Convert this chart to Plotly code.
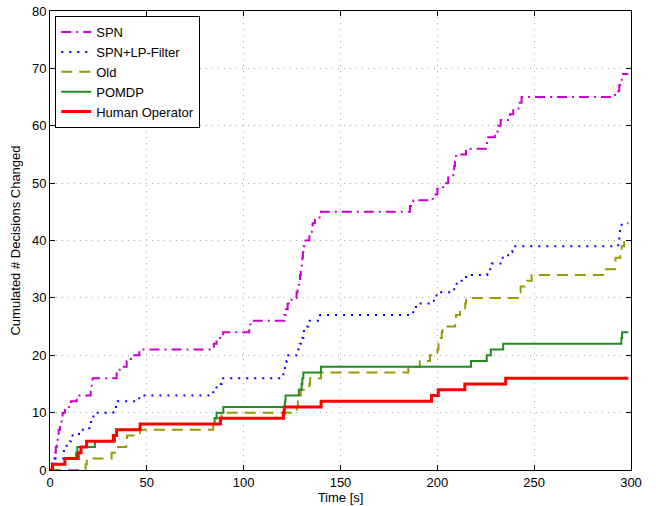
import plotly.graph_objects as go

# ---- data (step functions: time [s] -> cumulated count) ----
spn_t = [0, 1.2, 2.5, 3.0, 3.5, 4.0, 4.5, 5.2, 6.0, 6.5, 7.7, 10.8, 13.8, 21.0, 21.5, 22.0,
         34.4, 36.0, 39.6, 41.8, 46.1, 84.6, 86.0, 89.4, 102.9, 103.5, 121.0, 121.8, 122.7,
         124.8, 127.3, 127.8, 128.5, 129.1, 129.5, 130.0, 130.3, 130.6, 130.8, 131.3, 133.9,
         135.2, 135.6, 136.8, 139.9, 185.9, 187.6, 197.6, 200.0, 203.0, 205.6, 208.2, 208.7,
         209.1, 209.6, 214.8, 225.1, 226.3, 229.7, 231.4, 232.7, 237.5, 239.2, 242.6, 243.5,
         291.7, 293.9, 294.3, 295.2, 298.6]
spn_v = [0, 2, 3, 4, 5, 6, 7, 8, 9, 10, 11, 12, 13, 14, 15, 16, 17, 18, 19, 20, 21, 22, 23,
         24, 25, 26, 27, 28, 29, 30, 31, 32, 33, 34, 35, 36, 37, 38, 39, 40, 41, 42, 43, 44,
         45, 46, 47, 48, 49, 50, 51, 52, 53, 54, 55, 56, 57, 58, 59, 60, 61, 62, 63, 64, 65,
         66, 67, 68, 69, 69]

lp_t = [0, 1.5, 2.5, 6.9, 7.2, 8.6, 10.8, 15.0, 20.3, 21.2, 22.4, 32.7, 35.0, 46.1, 84.3,
        86.0, 88.6, 120.5, 121.3, 122.2, 122.5, 128.2, 129.0, 130.3, 130.8, 131.1, 133.4,
        139.5, 187.6, 189.0, 198.2, 199.6, 208.7, 210.0, 214.8, 225.8, 228.0, 233.2, 236.6,
        238.7, 293.4, 294.0, 294.3, 295.2, 298.6]
lp_v = [0, 1, 2, 3, 4, 5, 6, 7, 8, 9, 10, 11, 12, 13, 14, 15, 16, 17, 18, 19, 20, 21, 22,
        23, 24, 25, 26, 27, 28, 29, 30, 31, 32, 33, 34, 35, 36, 37, 38, 39, 40, 41, 42, 43, 43]

old_t = [0, 18.4, 19.0, 31.8, 34.4, 39.4, 39.8, 46.5, 84.3, 85.0, 88.6, 127.4, 128.0, 129.1,
         129.5, 133.9, 134.3, 139.9, 185.0, 191.0, 196.2, 200.0, 200.6, 201.8, 202.3, 202.6,
         209.2, 209.6, 211.7, 214.4, 214.8, 242.6, 243.0, 246.4, 248.7, 287.0, 291.7, 292.0,
         294.5, 295.2, 296.5, 298.6]
old_v = [0, 1, 2, 3, 4, 5, 6, 7, 8, 9, 10, 11, 12, 13, 14, 15, 16, 17, 18, 19, 20, 21, 22,
         23, 24, 25, 26, 27, 28, 29, 30, 31, 32, 33, 34, 35, 36, 37, 38, 39, 40, 40]

pomdp_t = [0, 1.7, 7.7, 13.5, 14.1, 23.2, 33.6, 34.4, 46.5, 85.0, 86.0, 89.5, 121.3, 121.6,
           128.5, 129.9, 130.3, 130.8, 139.9, 217.4, 225.5, 227.6, 234.0, 295.0, 295.4, 298.6]
pomdp_v = [0, 1, 2, 3, 4, 5, 6, 7, 8, 9, 10, 11, 12, 13, 14, 15, 16, 17, 18, 19, 20, 21, 22,
           23, 24, 24]

human_t = [0, 1.2, 7.7, 14.6, 16.0, 18.9, 32.7, 34.4, 46.5, 88.0, 120.5, 121.0, 140.0,
           197.0, 200.5, 214.2, 235.3, 298.6]
human_v = [0, 1, 2, 3, 4, 5, 6, 7, 8, 9, 10, 11, 12, 13, 14, 15, 16, 16]

x_ticks = [0, 50, 100, 150, 200, 250, 300]
y_ticks = [0, 10, 20, 30, 40, 50, 60, 70, 80]

FONT = "Liberation Sans, Arial, Helvetica, sans-serif"

fig = go.Figure()
fig.add_trace(go.Scatter(x=spn_t, y=spn_v, name="SPN", mode="lines", line_shape="hv",
                         line=dict(color="#CC00CC", width=2, dash="10px,5px,2px,5px")))
fig.add_trace(go.Scatter(x=lp_t, y=lp_v, name="SPN+LP-Filter", mode="lines", line_shape="hv",
                         line=dict(color="#0000FF", width=2, dash="2px,6px")))
fig.add_trace(go.Scatter(x=old_t, y=old_v, name="Old", mode="lines", line_shape="hv",
                         line=dict(color="#999900", width=2, dash="11px,7px")))
fig.add_trace(go.Scatter(x=pomdp_t, y=pomdp_v, name="POMDP", mode="lines", line_shape="hv",
                         line=dict(color="#228B22", width=2)))
fig.add_trace(go.Scatter(x=human_t, y=human_v, name="Human Operator", mode="lines",
                         line_shape="hv", line=dict(color="#FF0000", width=3)))

axis_common = dict(
    showline=True, linecolor="black", linewidth=1, mirror="allticks",
    ticks="inside", ticklen=5, tickcolor="black",
    showgrid=True, gridcolor="#aaaaaa", griddash="1px,5px", gridwidth=1,
    zeroline=False, automargin=False,
    tickfont=dict(family=FONT, size=13, color="black"),
)

fig.update_xaxes(range=[0, 300], tickvals=x_ticks,
                 title=dict(text="Time [s]", font=dict(family=FONT, size=13, color="black"),
                            standoff=1),
                 **axis_common)
fig.update_yaxes(range=[0, 80], tickvals=y_ticks,
                 title=dict(text="Cumulated # Decisions Changed",
                            font=dict(family=FONT, size=13, color="black"), standoff=8),
                 **axis_common)

fig.update_layout(
    width=656, height=506,
    margin=dict(l=50, r=25, t=11, b=36),
    paper_bgcolor="white", plot_bgcolor="white",
    font=dict(family=FONT, size=12, color="black"),
    legend=dict(x=0.009, y=0.989, xanchor="left", yanchor="top",
                bgcolor="white", bordercolor="black", borderwidth=1,
                font=dict(family=FONT, size=13, color="black"),
                tracegroupgap=0),
    showlegend=True,
)

# remove the default 8px page margin so the figure sits at the window's top-left
fig.write_html("out.html", config={"displayModeBar": False},
               post_script="document.body.style.margin='0';document.body.style.overflow='hidden';")
